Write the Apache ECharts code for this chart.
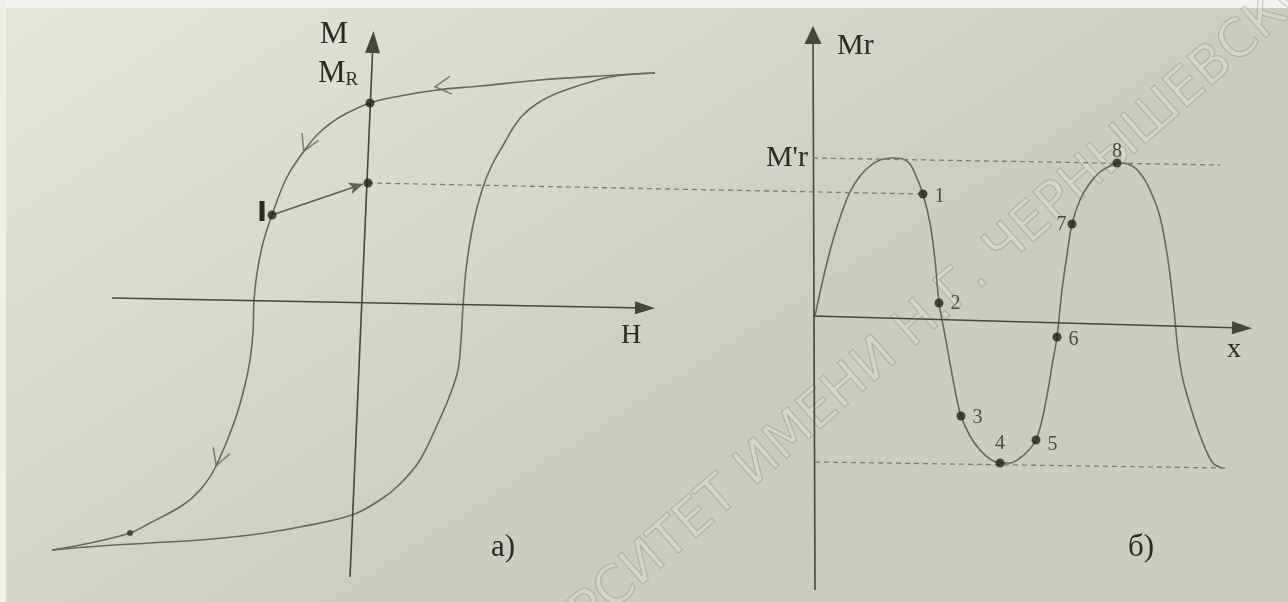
<!DOCTYPE html>
<html>
<head>
<meta charset="utf-8">
<script src="https://cdn.jsdelivr.net/npm/echarts@6/dist/echarts.min.js"></script>
<style>
  html, body { margin: 0; padding: 0; background: #dde1d5; }
  #chart { width: 1288px; height: 602px; }
</style>
</head>
<body>
<div id="chart"></div>
<script>
// ---- а) hysteresis loop M(H) ----
// descending branch, from positive saturation to negative saturation
const loopDownH = [2.89, 2.34, 1.74, 1.14, 0.71, 0.34, 0.04, -0.26, -0.46, -0.59, -0.79, -0.94, -1.03, -1.09, -1.12, -1.13, -1.16, -1.21, -1.31, -1.51, -1.66, -1.83, -2.16, -2.36, -2.76, -3.14];
const loopDownM = [2.29, 2.26, 2.22, 2.16, 2.12, 2.06, 1.99, 1.85, 1.70, 1.55, 1.25, 0.87, 0.59, 0.29, 0.02, -0.31, -0.58, -0.83, -1.18, -1.66, -1.88, -2.03, -2.21, -2.31, -2.41, -2.48];
// ascending branch, from negative saturation back to positive saturation
const loopUpH = [-3.14, -2.66, -2.16, -1.66, -1.16, -0.66, -0.14, 0.14, 0.34, 0.54, 0.72, 0.84, 0.92, 0.95, 0.97, 1.00, 1.07, 1.16, 1.26, 1.39, 1.47, 1.57, 1.72, 1.94, 2.44, 2.89];
const loopUpM = [-2.48, -2.44, -2.41, -2.38, -2.33, -2.25, -2.13, -1.98, -1.82, -1.58, -1.21, -0.93, -0.68, -0.38, -0.05, 0.32, 0.77, 1.12, 1.37, 1.60, 1.74, 1.87, 1.99, 2.10, 2.25, 2.29];
// marked states: remanence Mr, reduced remanence, state 1 on the loop
const loopPointH = [0.04, 0.02, -0.94];
const loopPointM = [1.99, 1.19, 0.87];
// small mark near negative saturation
const loopTailH = [-2.36];
const loopTailM = [-2.31];
// direction marks along the loop
const loopArrowH = [0.77, -0.59, -1.47];
const loopArrowM = [2.16, 1.58, -1.56];
const loopArrowAngle = [186, 246, 250];
// axes of panel а)
const axisH = [[-2.54, 0.04], [2.79, -0.06]];
const axisM = [[-0.16, -2.75], [0.07, 2.60]];
// remanent state 1 carried to the axis, and its level line to the profile
const remanenceArrow = [[-0.94, 0.87], [-0.03, 1.18]];
const remanenceLevel = [[0.02, 1.19], [5.54, 1.08]];

// ---- б) remanence profile Mr(x) ----
const profileX = [0.02, 0.11, 0.20, 0.29, 0.37, 0.47, 0.57, 0.67, 0.80, 0.90, 0.97, 1.03, 1.10, 1.17, 1.22, 1.26, 1.31, 1.35, 1.42, 1.48, 1.57, 1.67, 1.77, 1.87, 1.97, 2.07, 2.15, 2.23, 2.29, 2.35, 2.40, 2.44, 2.49, 2.54, 2.59, 2.67, 2.77, 2.87, 2.97, 3.04, 3.15, 3.27, 3.37, 3.47, 3.55, 3.61, 3.65, 3.70, 3.77, 3.84, 3.92, 4.00, 4.09];
const profileMr = [0.01, 0.42, 0.77, 1.05, 1.25, 1.41, 1.51, 1.57, 1.59, 1.58, 1.53, 1.41, 1.23, 0.94, 0.57, 0.14, -0.13, -0.35, -0.73, -0.99, -1.19, -1.33, -1.42, -1.46, -1.46, -1.41, -1.34, -1.23, -1.03, -0.73, -0.43, -0.20, 0.27, 0.62, 0.93, 1.17, 1.34, 1.45, 1.51, 1.54, 1.53, 1.44, 1.27, 1.00, 0.57, 0.07, -0.33, -0.63, -0.88, -1.10, -1.31, -1.46, -1.51];
// numbered points on the profile
const pointNames = ['1', '2', '3', '4', '5', '6', '7', '8'];
const pointX = [1.10, 1.26, 1.48, 1.87, 2.23, 2.44, 2.59, 3.04];
const pointMr = [1.23, 0.14, -0.99, -1.46, -1.23, -0.20, 0.93, 1.54];
// axes of panel б)
const axisX = [[0, 0.01], [4.29, -0.11]];
const axisMr = [[0.02, -2.73], [0, 2.82]];
// saturation remanence levels M'r and -M'r
const upperLevel = [[0, 1.59], [4.07, 1.52]];
const lowerLevel = [[0.02, -1.45], [4.12, -1.51]];

const zip = (a, b) => a.map((v, i) => [v, b[i]]);

const INK = '#2a2b27';
const CURVE = '#666860';
const AXIS = '#45473f';
const DASH = '#7b7d74';
const SERIF = '"Liberation Serif", "DejaVu Serif", serif';

function seg(pair, style, endSymbol, endSize) {
  return [
    { coord: pair[0], symbol: 'none', lineStyle: style },
    { coord: pair[1], symbol: endSymbol || 'none', symbolSize: endSize || 10 }
  ];
}

const axisStyle = { color: AXIS, width: 1.6, type: 'solid' };
const dashStyle = { color: DASH, width: 1.3, type: [5, 4] };

// where each number sits relative to its point
const pointLabelPlace = {
  '1': ['right', [2, 3]], '2': ['right', [2, 1]], '3': ['right', [2, 2]],
  '4': ['top', [0, 0]], '5': ['right', [2, 5]], '6': ['right', [2, 3]],
  '7': ['left', [4, 1]], '8': ['top', [0, 8]]
};

const watermarkStyle = {
  font: '52px "DejaVu Sans", sans-serif', verticalAlign: 'middle',
  fill: 'rgba(235,238,230,0.3)', stroke: 'rgba(115,119,111,0.42)', lineWidth: 1.2
};

const chart = echarts.init(document.getElementById('chart'), null, { renderer: 'canvas' });

const option = {
  animation: false,
  backgroundColor: 'transparent',
  grid: [
    { left: 40, top: 30, width: 900, height: 560 },
    { left: 700, top: 20, width: 580, height: 570 }
  ],
  xAxis: [
    { type: 'value', gridIndex: 0, min: -3.26, max: 5.74, show: false },
    { type: 'value', gridIndex: 1, min: -1.13, max: 4.67, show: false }
  ],
  yAxis: [
    { type: 'value', gridIndex: 0, min: -2.88, max: 2.72, show: false },
    { type: 'value', gridIndex: 1, min: -2.73, max: 2.97, show: false }
  ],
  graphic: [
    {
      type: 'rect', z: -10, silent: true,
      shape: { x: 0, y: 0, width: 1288, height: 602 },
      style: {
        fill: {
          type: 'linear', x: 0, y: 0, x2: 0.3, y2: 1,
          colorStops: [
            { offset: 0, color: '#e3e6dc' },
            { offset: 0.5, color: '#d7dbce' },
            { offset: 1, color: '#cacec1' }
          ]
        }
      }
    },
    { type: 'rect', z: -9, silent: true, shape: { x: 0, y: 0, width: 1288, height: 8 }, style: { fill: '#f4f5f1' } },
    { type: 'rect', z: -9, silent: true, shape: { x: 0, y: 0, width: 6, height: 602 }, style: { fill: '#eef0ea' } },
    // paper watermark
    {
      type: 'text', z: -5, silent: true, x: 903, y: 338, rotation: 0.72,
      style: Object.assign({ text: 'УНИВЕРСИТЕТ ИМЕНИ ', align: 'right' }, watermarkStyle)
    },
    {
      type: 'text', z: -5, silent: true, x: 903, y: 338, rotation: 0.72,
      style: Object.assign({ text: 'Н.Г. ЧЕРНЫШЕВСКОГО', align: 'left' }, watermarkStyle)
    },
    // axis names and panel captions
    { type: 'text', x: 334, y: 35, style: { text: 'M', font: '32px ' + SERIF, fill: INK, align: 'center', verticalAlign: 'middle' } },
    {
      type: 'text', x: 318, y: 74,
      style: {
        text: '{a|M}{b|R}', align: 'left', verticalAlign: 'middle',
        rich: {
          a: { font: '31px ' + SERIF, fill: INK, verticalAlign: 'bottom' },
          b: { font: '19px ' + SERIF, fill: INK, verticalAlign: 'bottom' }
        }
      }
    },
    { type: 'text', x: 631, y: 336, style: { text: 'H', font: '28px ' + SERIF, fill: INK, align: 'center', verticalAlign: 'middle' } },
    { type: 'text', x: 262, y: 214, style: { text: 'I', font: 'bold 27px "DejaVu Sans", sans-serif', fill: INK, align: 'center', verticalAlign: 'middle' } },
    { type: 'text', x: 503, y: 548, style: { text: 'а)', font: '31px ' + SERIF, fill: INK, align: 'center', verticalAlign: 'middle' } },
    { type: 'text', x: 837, y: 46, style: { text: 'Mr', font: '30px ' + SERIF, fill: INK, align: 'left', verticalAlign: 'middle' } },
    { type: 'text', x: 808, y: 158, style: { text: "M'r", font: '30px ' + SERIF, fill: INK, align: 'right', verticalAlign: 'middle' } },
    { type: 'text', x: 1234, y: 350, style: { text: 'x', font: '28px ' + SERIF, fill: INK, align: 'center', verticalAlign: 'middle' } },
    { type: 'text', x: 1141, y: 548, style: { text: 'б)', font: '31px ' + SERIF, fill: INK, align: 'center', verticalAlign: 'middle' } }
  ],
  series: [
    {
      name: 'loop-down', type: 'line', xAxisIndex: 0, yAxisIndex: 0,
      data: zip(loopDownH, loopDownM), smooth: 0.35, showSymbol: false, silent: true,
      lineStyle: { color: CURVE, width: 1.6 }, clip: false,
      markLine: {
        silent: true, animation: false, label: { show: false },
        data: [
          seg(axisH, axisStyle, 'triangle', [13, 20]),
          seg(axisM, axisStyle, 'triangle', [15, 22]),
          seg(remanenceArrow, { color: '#5f615a', width: 1.8, type: 'solid' }, 'arrow', [9, 14]),
          seg(remanenceLevel, dashStyle)
        ]
      }
    },
    {
      name: 'loop-up', type: 'line', xAxisIndex: 0, yAxisIndex: 0,
      data: zip(loopUpH, loopUpM), smooth: 0.35, showSymbol: false, silent: true,
      lineStyle: { color: CURVE, width: 1.6 }
    },
    {
      name: 'loop-direction', type: 'scatter', xAxisIndex: 0, yAxisIndex: 0, silent: true,
      data: loopArrowH.map((h, i) => ({ value: [h, loopArrowM[i]], symbolRotate: loopArrowAngle[i] })),
      symbol: 'path://M0,0L16,8L0,16', symbolSize: [16, 18],
      itemStyle: { color: 'rgba(0,0,0,0)', borderColor: CURVE, borderWidth: 1.5 }
    },
    {
      name: 'loop-points', type: 'scatter', xAxisIndex: 0, yAxisIndex: 0, silent: true, z: 5,
      data: zip(loopPointH, loopPointM), symbolSize: 9,
      itemStyle: { color: '#1f201c' }
    },
    {
      name: 'loop-tail', type: 'scatter', xAxisIndex: 0, yAxisIndex: 0, silent: true, z: 5,
      data: zip(loopTailH, loopTailM), symbolSize: 6,
      itemStyle: { color: '#2e2f2a' }
    },
    {
      name: 'profile', type: 'line', xAxisIndex: 1, yAxisIndex: 1,
      data: zip(profileX, profileMr), smooth: 0.35, showSymbol: false, silent: true,
      lineStyle: { color: CURVE, width: 1.6 }, clip: false,
      markLine: {
        silent: true, animation: false, label: { show: false },
        data: [
          seg(axisX, axisStyle, 'triangle', [13, 20]),
          seg(axisMr, axisStyle, 'triangle', [17, 18]),
          seg(upperLevel, dashStyle),
          seg(lowerLevel, dashStyle)
        ]
      }
    },
    {
      name: 'profile-points', type: 'scatter', xAxisIndex: 1, yAxisIndex: 1, silent: true, z: 5,
      data: pointNames.map((n, i) => ({
        name: n, value: [pointX[i], pointMr[i]],
        label: { position: pointLabelPlace[n][0], offset: pointLabelPlace[n][1] }
      })),
      symbolSize: 9,
      itemStyle: { color: '#1f201c' },
      label: {
        show: true, formatter: '{b}', distance: 5,
        fontFamily: SERIF, fontSize: 20, color: INK
      }
    }
  ]
};

chart.setOption(option);
</script>
</body>
</html>
